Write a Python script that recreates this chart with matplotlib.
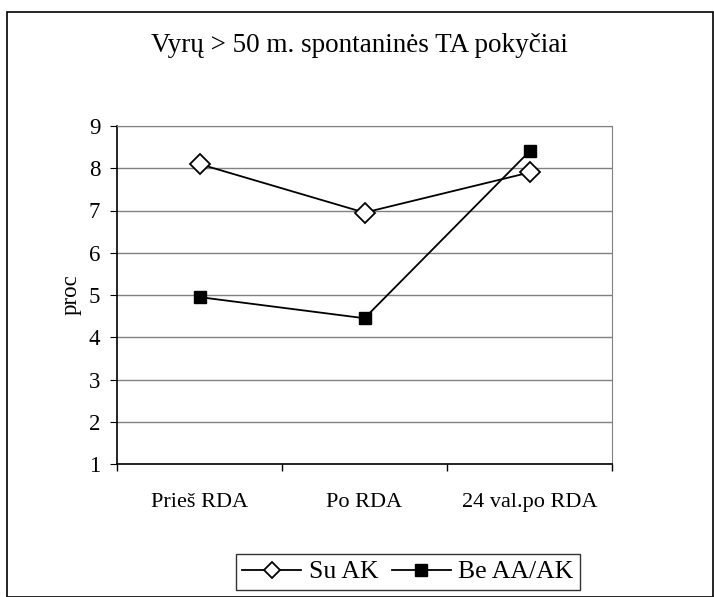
import matplotlib
matplotlib.use("Agg")
import matplotlib.pyplot as plt
from matplotlib.patches import Rectangle

categories = ["Prieš RDA", "Po RDA", "24 val.po RDA"]
su_ak = [8.1, 6.95, 7.9]
be_aa_ak = [4.95, 4.45, 8.4]

plt.rcParams["font.family"] = ["Liberation Serif", "DejaVu Serif"]

fig = plt.figure(figsize=(7.14, 5.97), dpi=100)
ax = fig.add_axes([117 / 714, 1 - 464 / 597, 495 / 714, 338 / 597])

x = range(len(categories))
ax.plot(x, su_ak, color="black", lw=1.3, marker="D", ms=10, mfc="white",
        mec="black", mew=1.3, label="Su AK", zorder=3)
ax.plot(x, be_aa_ak, color="black", lw=1.3, marker="s", ms=8, mfc="black",
        mec="black", label="Be AA/AK", zorder=3)

ax.set_xlim(-0.5, 2.5)
ax.set_ylim(1, 9)
ax.set_yticks(range(1, 10))
ax.set_xticks(list(x))
ax.set_xticklabels(categories, fontsize=16)
ax.set_xticks([-0.5, 0.5, 1.5, 2.5], minor=True)
ax.tick_params(axis="x", which="major", length=0, pad=21)
ax.tick_params(axis="x", which="minor", length=5, direction="out", width=1)
ax.tick_params(axis="y", length=5, direction="out", labelsize=16.5, pad=7)
ax.yaxis.grid(True, color="#808080", lw=1)
ax.set_axisbelow(True)
for s in ["top", "right"]:
    ax.spines[s].set_color("#808080")
for s in ["left", "bottom"]:
    ax.spines[s].set_color("black")
    ax.spines[s].set_linewidth(1.2)
ax.set_ylabel("proc", fontsize=16.5, labelpad=5)

fig.text(359 / 714, 1 - 45 / 597, "Vyrų > 50 m. spontaninės TA pokyčiai",
         ha="center", va="center", fontsize=19.5)

leg = fig.legend(loc="center", bbox_to_anchor=(408 / 714, 1 - 572 / 597),
                 ncol=2, fontsize=18.5, frameon=True, fancybox=False,
                 edgecolor="black", handlelength=2.3, handletextpad=0.3,
                 columnspacing=0.5, borderpad=0.25, borderaxespad=0)
leg.get_frame().set_linewidth(1)
for h in leg.legend_handles:
    h.set_markersize(8)

fig.patches.append(Rectangle((7 / 714, 0), 706 / 714, 1 - 12 / 597,
                             transform=fig.transFigure, fill=False,
                             edgecolor="black", lw=1.2))

fig.savefig("out.png", dpi=100)
